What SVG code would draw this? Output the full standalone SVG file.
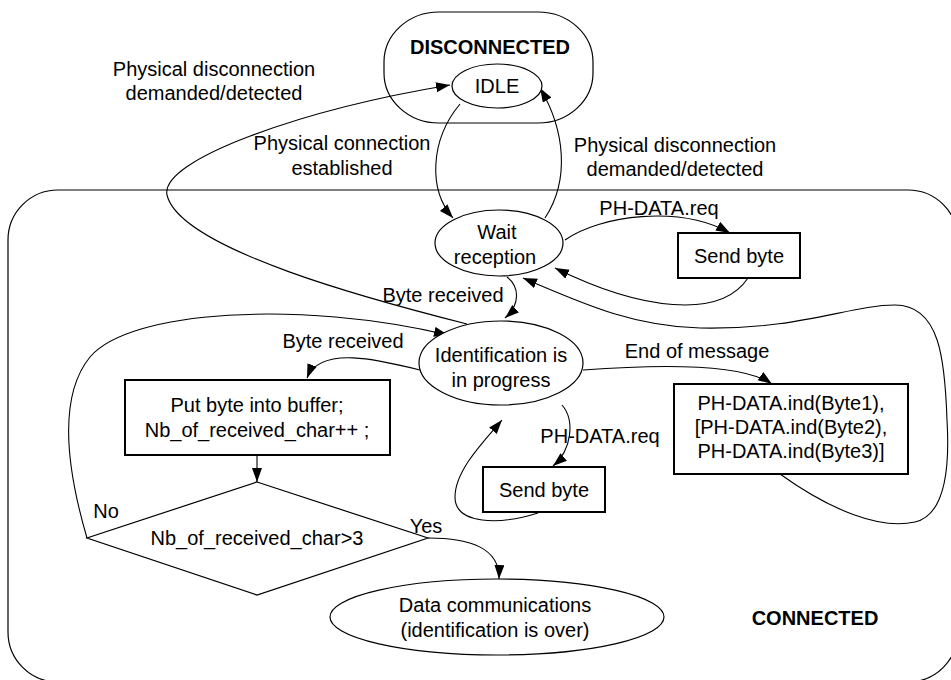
<svg xmlns="http://www.w3.org/2000/svg" width="951" height="680" viewBox="0 0 951 680">
<style>
.s{fill:none;stroke:#000;stroke-width:1.2}
.n{fill:#fff;stroke:#000;stroke-width:1.2}
.b{fill:#fff;stroke:#000;stroke-width:2}
text{font-family:"Liberation Sans",Arial,sans-serif;font-size:20px;fill:#000;text-anchor:middle}
.bold{font-weight:bold}
.c{fill:none;stroke:#000;stroke-width:1.1}
</style>
<defs>
<marker id="ah" markerUnits="userSpaceOnUse" markerWidth="16" markerHeight="12" refX="14" refY="5" orient="auto">
<path d="M0,0 L14,5 L0,10 z" fill="#000"/>
</marker>
</defs>
<rect width="951" height="680" fill="#fff"/>

<g id="connected">
<rect class="s" x="8" y="190" width="950" height="492" rx="50" ry="50"/>
<text class="bold" x="815" y="625">CONNECTED</text>
</g>
<g id="disconnected">
<rect class="n" x="384" y="12" width="209" height="111" rx="55" ry="50"/>
<text class="bold" x="490" y="54">DISCONNECTED</text>
</g>

<g id="connectors">
<path class="c" marker-end="url(#ah)" d="M 467 324 C 380 302, 180 250, 167 195 C 160 160, 300 110, 450 85"/>
<path class="c" marker-end="url(#ah)" d="M 460 104 C 430 140, 428 190, 453 218"/>
<path class="c" marker-end="url(#ah)" d="M 545 218 C 570 180, 565 130, 540 88"/>
<path class="c" marker-end="url(#ah)" d="M 565 240 C 600 215, 680 205, 730 233"/>
<path class="c" marker-end="url(#ah)" d="M 748 278 C 720 320, 640 310, 555 268"/>
<path class="c" marker-end="url(#ah)" d="M 780 474 C 830 510, 880 530, 915 522 C 945 515, 950 470, 947 420 C 945 360, 940 305, 895 305 C 850 305, 800 330, 700 328 C 630 326, 580 302, 523 278"/>
<path class="c" marker-end="url(#ah)" d="M 507 277 C 520 287, 520 305, 505 318"/>
<path class="c" marker-end="url(#ah)" d="M 87 538 C 70 480, 55 400, 90 357 C 130 310, 300 300, 448 335"/>
<path class="c" marker-end="url(#ah)" d="M 420 370 C 380 360, 320 345, 307 378"/>
<path class="c" marker-end="url(#ah)" d="M 257 455 L 257 482"/>
<path class="c" marker-end="url(#ah)" d="M 428 538 C 470 538, 500 548, 499 579"/>
<path class="c" marker-end="url(#ah)" d="M 583 370 C 650 365, 740 362, 772 384"/>
<path class="c" marker-end="url(#ah)" d="M 562 405 C 575 420, 572 450, 553 466"/>
<path class="c" marker-end="url(#ah)" d="M 538 513 C 500 525, 455 525, 455 497 C 455 470, 485 440, 502 420"/>
<text x="214" y="76">Physical disconnection</text>
<text x="214" y="100">demanded/detected</text>
<text x="342" y="150">Physical connection</text>
<text x="342" y="175">established</text>
<text x="675" y="152">Physical disconnection</text>
<text x="675" y="176">demanded/detected</text>
<text x="659" y="215">PH-DATA.req</text>
<text x="443" y="302">Byte received</text>
<text x="343" y="348">Byte received</text>
<text x="697" y="358">End of message</text>
<text x="600" y="443">PH-DATA.req</text>
<text x="106" y="518">No</text>
<text x="426" y="533">Yes</text>
</g>

<g id="idle">
<ellipse class="n" cx="497" cy="86" rx="45" ry="22"/>
<text x="497" y="93">IDLE</text>
</g>
<g id="wait">
<ellipse class="n" cx="499" cy="243" rx="64" ry="33"/>
<text x="497" y="239">Wait</text>
<text x="495" y="264">reception</text>
</g>
<g id="sendbyte1">
<rect class="b" x="678" y="233" width="122" height="45"/>
<text x="739" y="263">Send byte</text>
</g>
<g id="ident">
<ellipse class="n" cx="501" cy="363" rx="82" ry="42"/>
<text x="501" y="362">Identification is</text>
<text x="501" y="387">in progress</text>
</g>
<g id="phind">
<rect class="b" x="674" y="384" width="234" height="90"/>
<text x="791" y="410">PH-DATA.ind(Byte1),</text>
<text x="791" y="434">[PH-DATA.ind(Byte2),</text>
<text x="791" y="458">PH-DATA.ind(Byte3)]</text>
</g>
<g id="putbyte">
<rect class="b" x="125" y="380" width="265" height="75"/>
<text x="257" y="412">Put byte into buffer;</text>
<text x="257" y="437">Nb_of_received_char++ ;</text>
</g>
<g id="sendbyte2">
<rect class="b" x="483" y="467" width="122" height="45"/>
<text x="544" y="497">Send byte</text>
</g>
<g id="decision">
<polygon class="n" points="257,482 428,538 257,595 87,538"/>
<text x="257" y="545">Nb_of_received_char&gt;3</text>
</g>
<g id="datacomm">
<ellipse class="n" cx="497" cy="617" rx="167" ry="38"/>
<text x="495" y="612">Data communications</text>
<text x="495" y="637">(identification is over)</text>
</g>
</svg>
